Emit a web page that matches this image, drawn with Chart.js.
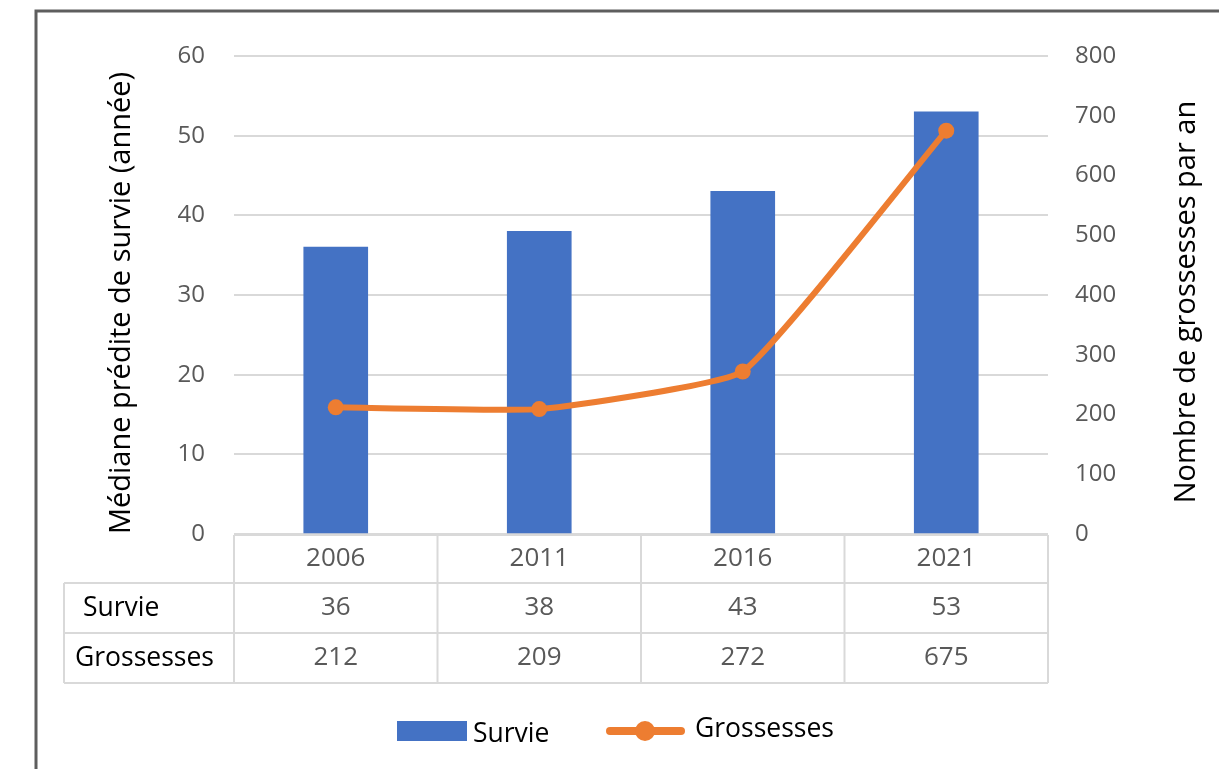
<!DOCTYPE html>
<html>
<head>
<meta charset="utf-8">
<script src="https://cdn.jsdelivr.net/npm/chart.js@4/dist/chart.umd.min.js"></script>
<style>
  html, body { margin: 0; padding: 0; background: #fff; }
  #chart { display: block; }
</style>
</head>
<body>
<canvas id="chart" width="1219" height="769"></canvas>
<script>
// ---- data ----
const years = ['2006', '2011', '2016', '2021'];
const survie = [36, 38, 43, 53];
const grossesses = [212, 209, 272, 675];
const rowLabels = ['Survie', 'Grossesses'];
const leftTitle = 'Médiane prédite de survie (année)';
const rightTitle = 'Nombre de grossesses par an';

const BLUE = '#4472C4';
const ORANGE = '#ED7D31';
const GRID = '#d9d9d9';
const TICK = '#595959';
const FONT = '"Open Sans", "Noto Sans", sans-serif';

// ---- frame, titles, data table and legend ----
const extras = {
  id: 'extras',
  beforeDraw(chart) {
    const c = chart.ctx;
    c.save();
    c.fillStyle = '#fff';
    c.fillRect(0, 0, chart.width, chart.height);
    c.strokeStyle = '#5e5e5e';
    c.lineWidth = 3;
    c.beginPath();
    c.moveTo(36, chart.height);
    c.lineTo(36, 11);
    c.lineTo(chart.width, 11);
    c.stroke();
    c.restore();
  },
  afterDraw(chart) {
    const c = chart.ctx;
    const a = chart.chartArea;
    const x = chart.scales.x;
    const colW = a.width / years.length;
    c.save();

    // axis titles, both read bottom to top
    c.fillStyle = '#000';
    c.font = '29px ' + FONT;
    c.textAlign = 'center';
    c.textBaseline = 'middle';
    [[122, 303, leftTitle], [1187, 302, rightTitle]].forEach(([tx, ty, t]) => {
      c.save();
      c.translate(tx, ty);
      c.rotate(-Math.PI / 2);
      c.fillText(t, 0, 0);
      c.restore();
    });

    // data table
    const rows = [a.bottom + 1, 583, 633, 683];
    const labelLeft = 64;
    c.strokeStyle = GRID;
    c.lineWidth = 2;
    c.beginPath();
    c.moveTo(a.left, rows[0]); c.lineTo(a.right, rows[0]);
    for (let r = 1; r < rows.length; r++) { c.moveTo(labelLeft, rows[r]); c.lineTo(a.right, rows[r]); }
    for (let i = 0; i <= years.length; i++) {
      const vx = a.left + i * colW;
      c.moveTo(vx, rows[0]); c.lineTo(vx, rows[3]);
    }
    c.moveTo(labelLeft, rows[1]); c.lineTo(labelLeft, rows[3]);
    c.stroke();

    c.font = '26px ' + FONT;
    c.fillStyle = TICK;
    c.textAlign = 'center';
    const series = [survie, grossesses];
    years.forEach((y, i) => {
      const cx = x.getPixelForValue(i);
      c.fillText(y, cx, (rows[0] + rows[1]) / 2);
      series.forEach((s, r) => c.fillText(String(s[i]), cx, (rows[r + 1] + rows[r + 2]) / 2));
    });
    c.fillStyle = '#000';
    c.textAlign = 'left';
    c.font = '26.5px ' + FONT;
    c.fillText(rowLabels[0], 83, (rows[1] + rows[2]) / 2);
    c.fillText(rowLabels[1], 75, (rows[2] + rows[3]) / 2);

    // legend
    const bar = chart.data.datasets.find(d => d.type === 'bar');
    const line = chart.data.datasets.find(d => d.type === 'line');
    c.fillStyle = bar.backgroundColor;
    c.fillRect(397, 721, 70, 20);
    c.fillStyle = '#000';
    c.fillText(bar.label, 473, 734);
    c.strokeStyle = line.borderColor;
    c.lineWidth = 8;
    c.lineCap = 'round';
    c.beginPath();
    c.moveTo(610, 731); c.lineTo(681, 731);
    c.stroke();
    c.fillStyle = line.borderColor;
    c.beginPath();
    c.arc(645, 731, 10, 0, Math.PI * 2);
    c.fill();
    c.fillStyle = '#000';
    c.fillText(line.label, 695, 729);
    c.restore();
  }
};

new Chart(document.getElementById('chart'), {
  data: {
    labels: years,
    datasets: [
      {
        type: 'line', label: 'Grossesses', data: grossesses, yAxisID: 'y1',
        borderColor: ORANGE, backgroundColor: ORANGE, borderWidth: 6,
        pointRadius: 8, pointBackgroundColor: ORANGE, pointBorderWidth: 0,
        tension: 0.12, order: 0
      },
      {
        type: 'bar', label: 'Survie', data: survie, yAxisID: 'y',
        backgroundColor: BLUE, barThickness: 64, order: 1
      }
    ]
  },
  options: {
    responsive: false,
    animation: false,
    layout: { padding: { left: 154, right: 91, top: 56, bottom: 235 } },
    plugins: { legend: { display: false }, tooltip: { enabled: false } },
    scales: {
      x: { display: false },
      y: {
        position: 'left', min: 0, max: 60,
        afterFit(s) { s.width = 80; },
        border: { display: false },
        grid: { color: GRID, lineWidth: 2, drawTicks: false },
        ticks: { stepSize: 10, padding: 29, color: TICK, font: { family: FONT, size: 24 } }
      },
      y1: {
        position: 'right', min: 0, max: 800,
        afterFit(s) { s.width = 80; },
        border: { display: false },
        grid: { display: false, drawTicks: false },
        ticks: { stepSize: 100, padding: 27, color: TICK, font: { family: FONT, size: 24 } }
      }
    }
  },
  plugins: [extras]
});
</script>
</body>
</html>
